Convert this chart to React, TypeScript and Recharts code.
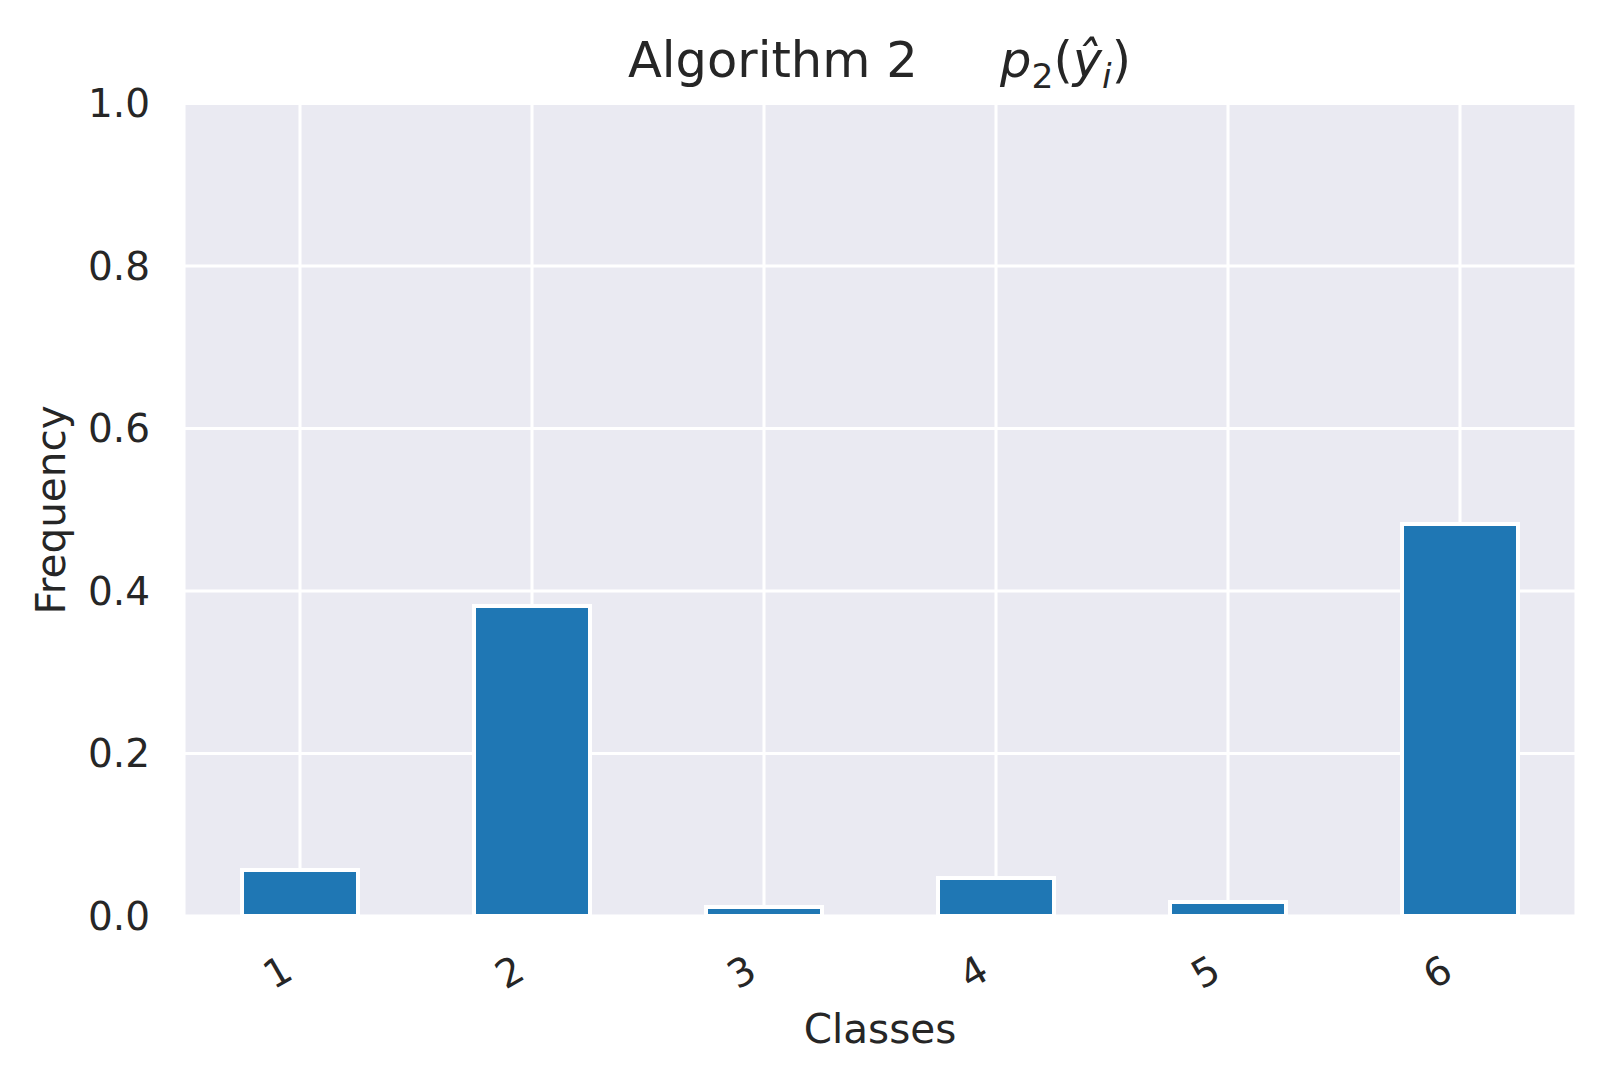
import React from "react";
import { BarChart, Bar, XAxis, YAxis, CartesianGrid } from "recharts";

const classes = ["1", "2", "3", "4", "5", "6"];
const frequencies = [0.0566, 0.3815, 0.0111, 0.0468, 0.0172, 0.4825];
const yTicks = [0, 0.2, 0.4, 0.6, 0.8, 1.0];

const data = classes.map((c, i) => ({ name: c, value: frequencies[i] }));

const FONT = "'DejaVu Sans', sans-serif";
const TEXT = "#262626";

const XTick = (props: any) => {
  const { x, payload } = props;
  const cx = x - 22.5;
  const cy = 972;
  return (
    <text
      x={cx}
      y={cy}
      textAnchor="middle"
      dominantBaseline="central"
      transform={`rotate(-30, ${cx}, ${cy})`}
      fontSize={39}
      fontFamily={FONT}
      fill={TEXT}
    >
      {payload.value}
    </text>
  );
};

export default function App() {
  return (
    <div style={{ position: "absolute", left: 0, top: 0, width: 1607, height: 1081, background: "#fff" }}>
      <BarChart
        width={1607}
        height={1081}
        data={data}
        margin={{ top: 103.5, right: 31, bottom: 0, left: 84 }}
        barCategoryGap="25%"
      >
        <CartesianGrid fill="#EAEAF2" stroke="#ffffff" strokeWidth={3} />
        <XAxis
          dataKey="name"
          height={165}
          axisLine={false}
          tickLine={false}
          tick={<XTick />}
          interval={0}
        />
        <YAxis
          width={100}
          domain={[0, 1]}
          ticks={yTicks}
          axisLine={false}
          tickLine={false}
          tickSize={0}
          tickMargin={34}
          tickFormatter={(v: number) => v.toFixed(1)}
          tick={{ fontSize: 39, fontFamily: FONT, fill: TEXT }}
          interval={0}
        />
        <Bar dataKey="value" fill="#1f77b4" stroke="#ffffff" strokeWidth={4} isAnimationActive={false} />
      </BarChart>
      <svg
        width={1607}
        height={1081}
        style={{ position: "absolute", left: 0, top: 0, pointerEvents: "none" }}
      >
        <text x={628} y={77} fontSize={49.5} fontFamily={FONT} fill={TEXT}>
          Algorithm 2
        </text>
        <text y={77} fontSize={49.5} fontFamily={FONT} fill={TEXT}>
          <tspan x={1000} fontStyle="italic">p</tspan>
          <tspan fontSize={34.6} dy={11}>2</tspan>
          <tspan dy={-11}>(</tspan>
          <tspan fontStyle="italic">ŷ</tspan>
          <tspan fontStyle="italic" fontSize={34.6} dy={11}>i</tspan>
          <tspan dy={-11}>)</tspan>
        </text>
        <text x={880} y={1043} textAnchor="middle" fontSize={40.5} fontFamily={FONT} fill={TEXT}>
          Classes
        </text>
        <text
          x={65}
          y={510}
          textAnchor="middle"
          transform="rotate(-90, 65, 510)"
          fontSize={40.5}
          fontFamily={FONT}
          fill={TEXT}
        >
          Frequency
        </text>
      </svg>
    </div>
  );
}
